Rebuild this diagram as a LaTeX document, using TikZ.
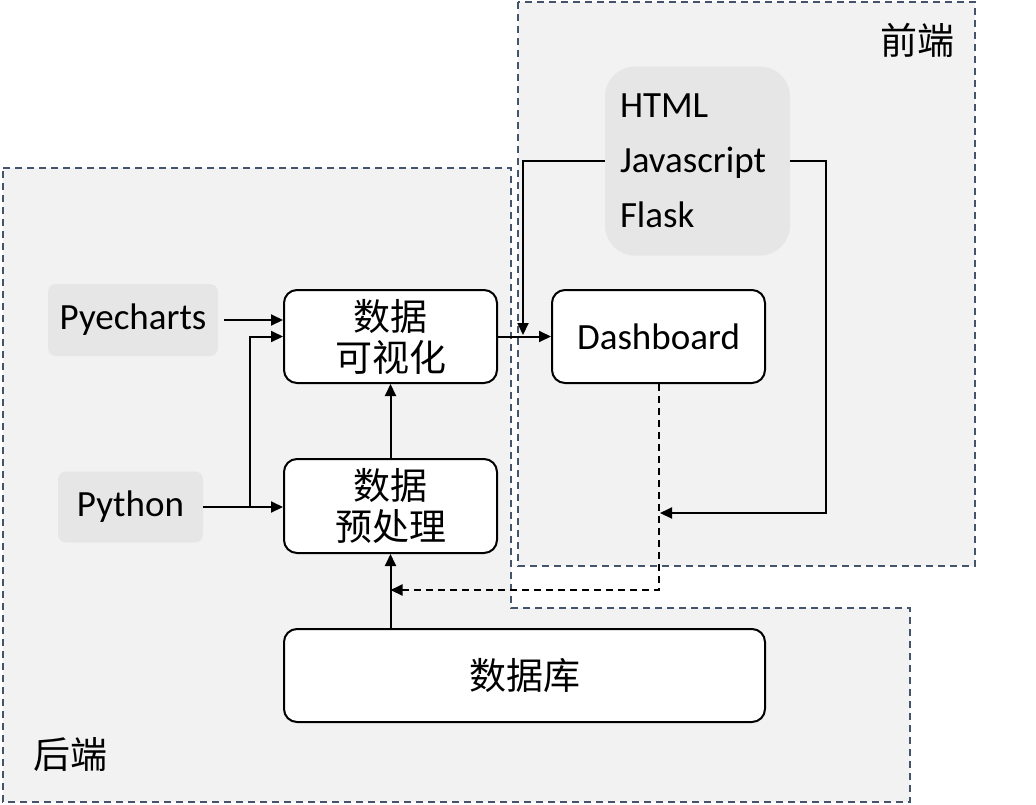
\documentclass[tikz,border=0pt]{standalone}
\usepackage{fontspec}
\setmainfont{Carlito}
\newfontfamily\cjk{Noto Sans CJK SC}
\usetikzlibrary{arrows.meta,calc}
\definecolor{regionfill}{HTML}{F2F2F2}
\definecolor{tagfill}{HTML}{E6E6E6}
\definecolor{regionline}{HTML}{44546A}
\tikzset{
  region/.style={draw=regionline,line width=2pt,dash pattern=on 7pt off 5pt},
  tag/.style={fill=tagfill,rounded corners=8pt,inner sep=0pt,font=\fontsize{37}{41}\selectfont},
  box/.style={draw=black,fill=white,line width=2pt,rounded corners=13pt,inner sep=0pt,align=center,font=\cjk\fontsize{37}{41}\selectfont},
  arr/.style={line width=2pt,-{Triangle[length=12pt,width=11pt]}},
  lbl/.style={font=\cjk\fontsize{37}{41}\selectfont,inner sep=0pt}
}
\begin{document}
\begin{tikzpicture}[x=1pt,y=-1pt]
\useasboundingbox (0,0) rectangle (1036,804);
% regions
\fill[regionfill] (3,168) -- (511,168) -- (511,608) -- (910,608) -- (910,802) -- (3,802) -- cycle;
\fill[regionfill] (518,2) rectangle (975,566);
\draw[region] (3,168) -- (511,168) -- (511,608) -- (910,608) -- (910,802) -- (3,802) -- cycle;
\draw[region] (518,2) rectangle (975,566);
% labels
\node[lbl] (fe) at (917,40) {前端};
\node[lbl] (be) at (70,755) {后端};
% nodes
\node[tag,minimum width=170pt,minimum height=72pt] (pye) at (133,320) {Pyecharts};
\node[tag,minimum width=145pt,minimum height=71pt] (py) at (130.5,507) {Python};
\node[box,minimum width=213pt,minimum height=93pt] (vis) at (390.5,336.5) {数据\\可视化};
\node[box,minimum width=213pt,minimum height=94pt] (pre) at (390.5,506) {数据\\预处理};
\node[box,minimum width=481pt,minimum height=93pt] (db) at (524.5,675.5) {数据库};
\node[box,minimum width=213pt,minimum height=93pt,font=\fontsize{37}{41}\selectfont] (dash) at (658.5,336.5) {Dashboard};
\node[fill=tagfill,rounded corners=30pt,minimum width=185pt,minimum height=189pt,text width=155pt,align=left,inner sep=0pt,font=\fontsize{37}{55}\selectfont] (tech) at (697.5,161) {HTML\\Javascript\\Flask};
% coordinates
\coordinate (br) at (250,507);
\coordinate (tl) at (523,335);
\coordinate (tr) at (660,513);
\coordinate (rr) at (826,513);
\coordinate (dl) at (390.5,590);
% connectors
\draw[arr] ([xshift=6pt]pye.east) -- (pye.east -| vis.west);
\draw[arr] (py.east) -- (py.east -| pre.west);
\draw[arr] (br) |- (vis.west);
\draw[arr] (pre) -- (vis);
\draw[arr] (pre.south |- db.north) -- (pre.south);
\draw[arr] (vis.east) -- (dash.west);
\draw[arr] (tech.west) -| (tl);
\draw[arr] (tech.east) -| (rr) -- (tr);
\draw[arr,dashed,dash pattern=on 7pt off 5pt] (dash.south) |- (dl);
\end{tikzpicture}
\end{document}
